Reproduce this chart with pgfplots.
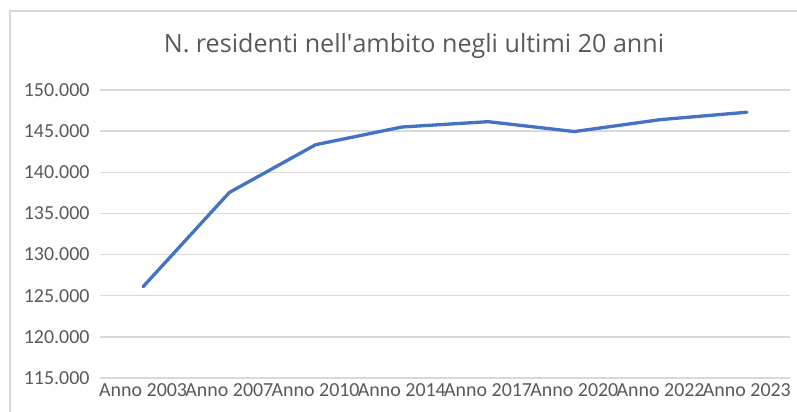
\documentclass[border=0pt]{standalone}
\usepackage{pgfplots}
\pgfplotsset{compat=1.18}
\usepackage{fontspec}
\setmainfont{Carlito}
\newfontfamily\titlefont{Open Sans}
\definecolor{linecol}{HTML}{4472C4}
\definecolor{gridcol}{HTML}{D9D9D9}
\definecolor{txtcol}{HTML}{595959}
\begin{document}
\begin{tikzpicture}
\useasboundingbox (0,0) rectangle (797bp,412bp);
\draw[gridcol, line width=1.5bp] (10bp,0) -- (10bp,401bp) -- (797bp,401bp);
\node[txtcol, font=\titlefont\fontsize{25.2}{30}\selectfont] at (414bp,366bp) {N. residenti nell\textquotesingle ambito negli ultimi 20 anni};
\begin{axis}[
  at={(100bp,34bp)}, anchor=south west,
  scale only axis, width=690bp, height=288bp,
  xmin=-0.5, xmax=7.5, ymin=115000, ymax=150000,
  ytick={115000,120000,125000,130000,135000,140000,145000,150000},
  xtick={0,1,2,3,4,5,6,7},
  xticklabels={Anno 2003,Anno 2007,Anno 2010,Anno 2014,Anno 2017,Anno 2020,Anno 2022,Anno 2023},
  axis line style={draw=none},
  major tick length=0pt,
  ymajorgrids, major grid style={gridcol, line width=1.3bp},
  tick label style={txtcol, font=\fontsize{20}{23}\selectfont},
  yticklabel style={xshift=-7bp},
  xticklabel style={yshift=-2bp},
  scaled y ticks=false,
  /pgf/number format/.cd, fixed, 1000 sep={.}, assume math mode=true,
]
\addplot[linecol, line width=3.3bp, line join=round, line cap=round] coordinates {
(0,126100) (1,137550) (2,143350) (3,145500) (4,146150) (5,144950) (6,146400) (7,147300)
};
\end{axis}
\end{tikzpicture}
\end{document}
